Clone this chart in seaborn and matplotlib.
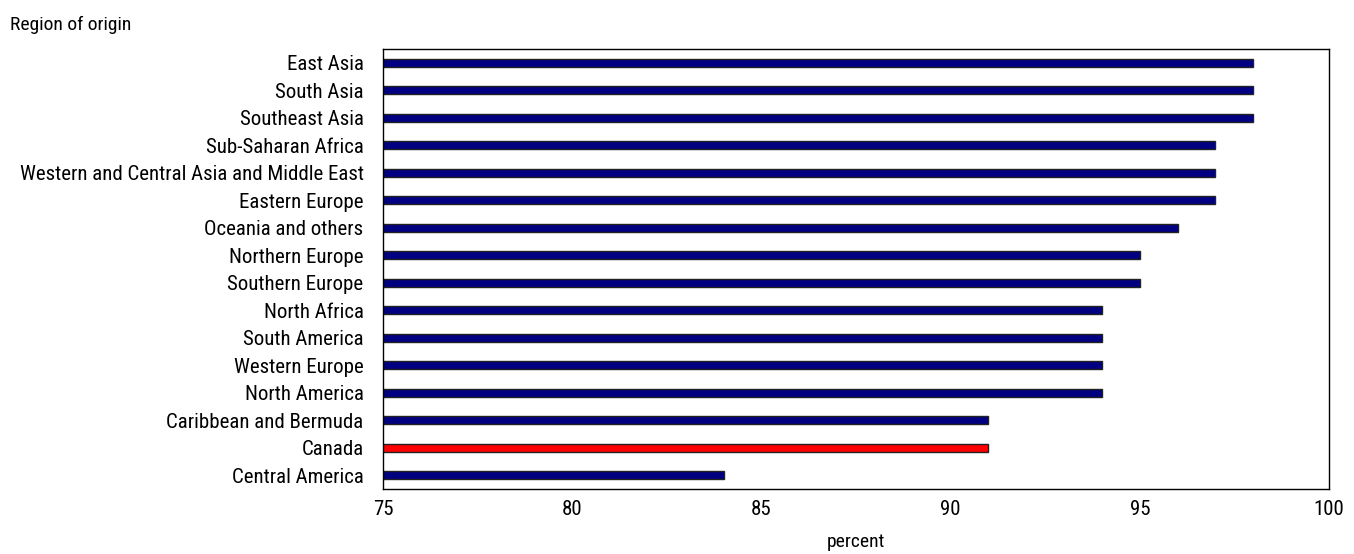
import matplotlib
matplotlib.use('Agg')
import matplotlib.pyplot as plt
import seaborn as sns
import pandas as pd

# Données
regions = ['East Asia', 'South Asia', 'Southeast Asia', 'Sub-Saharan Africa',
           'Western and Central Asia and Middle East', 'Eastern Europe',
           'Oceania and others', 'Northern Europe', 'Southern Europe',
           'North Africa', 'South America', 'Western Europe', 'North America',
           'Caribbean and Bermuda', 'Canada', 'Central America']
percent = [98, 98, 98, 97, 97, 97, 96, 95, 95, 94, 94, 94, 94, 91, 91, 84]
highlight = 'Canada'

df = pd.DataFrame({'region': regions, 'percent': percent})
palette = {r: ('#ff0000' if r == highlight else '#000080') for r in regions}

sns.set_style('white')
plt.rcParams['font.family'] = ['Roboto Condensed', 'Liberation Sans', 'DejaVu Sans']
plt.rcParams['text.color'] = 'black'
plt.rcParams['xtick.color'] = 'black'
plt.rcParams['ytick.color'] = 'black'
plt.rcParams['axes.labelcolor'] = 'black'

fig = plt.figure(figsize=(13.54, 5.54), dpi=100)
ax = fig.add_axes([0.2829, 0.1173, 0.6986, 0.7943])

sns.barplot(data=df, x='percent', y='region', hue='region', palette=palette,
            order=regions, width=0.3, saturation=1, edgecolor='#222222',
            linewidth=1, legend=False, ax=ax)

ax.set_xlim(75, 100)
ax.set_xticks([75, 80, 85, 90, 95, 100])
ax.tick_params(axis='x', direction='in', length=4, labelsize=15, pad=8)
ax.tick_params(axis='y', length=0, labelsize=15, pad=14)
ax.set_ylabel('')
ax.set_xlabel('percent', fontsize=14, labelpad=10)
for s in ax.spines.values():
    s.set_color('black')
    s.set_linewidth(1)

fig.text(0.0074, 0.972, 'Region of origin', fontsize=14, va='top', ha='left')

fig.savefig('out.png', dpi=100)
